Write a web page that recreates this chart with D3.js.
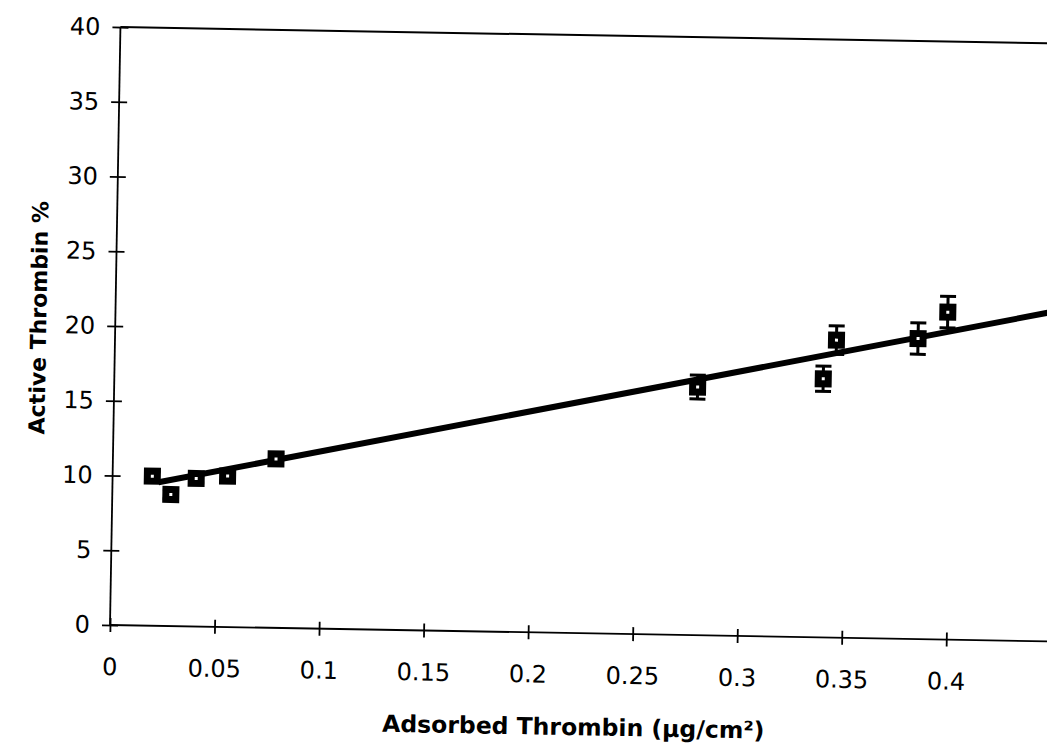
<!DOCTYPE html>
<meta charset="utf-8">
<script src="https://d3js.org/d3.v7.min.js"></script>
<style>
  body { margin: 0; background: #fff; }
  text { fill: #000; }
</style>
<div id="chart"></div>
<script>
// data
var adsorbed = [0.019, 0.028, 0.040, 0.055, 0.078, 0.279, 0.339, 0.345, 0.384, 0.398];
var active   = [10.0, 8.8, 9.9, 10.1, 11.3, 16.6, 17.3, 19.9, 20.1, 21.9];
var errBar   = [0.3, 0.3, 0.3, 0.3, 0.3, 0.8, 0.85, 0.95, 1.05, 1.05];

// straight-line fit drawn through the points (two ends)
var fitX = [0.022, 0.45];
var fitY = [9.6, 22.1];

var xTicks = [0, 0.05, 0.1, 0.15, 0.2, 0.25, 0.3, 0.35, 0.4];
var yTicks = [0, 5, 10, 15, 20, 25, 30, 35, 40];

var W = 1047, H = 746;
var x0 = 110, yBase = 625;

var svg = d3.select("#chart").append("svg")
  .attr("width", W)
  .attr("height", H);

// the scan is turned about one degree, so the whole plot is too
var g = svg.append("g")
  .attr("transform", "rotate(1," + x0 + "," + yBase + ")");

var x = d3.scaleLinear().domain([0, 0.45]).range([x0, x0 + 0.45 * 2091]);
var y = d3.scaleLinear().domain([0, 40]).range([yBase, 27]);

// x axis
var xAxis = g.append("g")
  .attr("transform", "translate(0," + yBase + ")")
  .call(d3.axisBottom(x).tickValues(xTicks).tickSize(7).tickPadding(26)
    .tickFormat(function(d) { return d === 0 ? "0" : d3.format("~g")(d); }));
xAxis.selectAll(".tick line").attr("y1", -7).attr("y2", 7);
xAxis.select(".domain").attr("d", "M" + x0 + ",0H" + x(0.45));

// y axis
var yAxis = g.append("g")
  .attr("transform", "translate(" + x0 + ",0)")
  .call(d3.axisLeft(y).tickValues(yTicks).tickSize(8).tickPadding(12));
yAxis.selectAll(".tick line").attr("x1", 8).attr("x2", -8);
yAxis.select(".domain").attr("d", "M0," + y(0) + "V" + y(40));

g.selectAll(".tick text")
  .style("font-family", "'DejaVu Sans', sans-serif")
  .style("font-size", "24px");
g.selectAll(".domain, .tick line")
  .attr("stroke", "#000")
  .attr("stroke-width", 1.8);

// top frame line at 40
g.append("line")
  .attr("x1", x(0)).attr("x2", x(0.45))
  .attr("y1", y(40)).attr("y2", y(40))
  .attr("stroke", "#000")
  .attr("stroke-width", 2);

// fit line
g.append("line")
  .attr("x1", x(fitX[0])).attr("y1", y(fitY[0]))
  .attr("x2", x(fitX[1])).attr("y2", y(fitY[1]))
  .attr("stroke", "#000")
  .attr("stroke-width", 6);

var pts = adsorbed.map(function(d, i) { return {x: d, y: active[i], e: errBar[i]}; });

// error bars
var eb = g.selectAll(".err").data(pts).enter().append("g").attr("class", "err");
eb.append("line")
  .attr("x1", function(d) { return x(d.x); })
  .attr("x2", function(d) { return x(d.x); })
  .attr("y1", function(d) { return y(d.y - d.e); })
  .attr("y2", function(d) { return y(d.y + d.e); })
  .attr("stroke", "#000").attr("stroke-width", 3);
[-1, 1].forEach(function(s) {
  eb.append("line")
    .attr("x1", function(d) { return x(d.x) - 8; })
    .attr("x2", function(d) { return x(d.x) + 8; })
    .attr("y1", function(d) { return y(d.y + s * d.e); })
    .attr("y2", function(d) { return y(d.y + s * d.e); })
    .attr("stroke", "#000").attr("stroke-width", 3);
});

// square markers
g.selectAll(".pt").data(pts).enter().append("rect")
  .attr("class", "pt")
  .attr("x", function(d) { return x(d.x) - 5; })
  .attr("y", function(d) { return y(d.y) - 5; })
  .attr("width", 10)
  .attr("height", 10)
  .attr("fill", "#fff")
  .attr("stroke", "#000")
  .attr("stroke-width", 7);

// axis titles
g.append("text")
  .attr("x", 575)
  .attr("y", 727)
  .attr("text-anchor", "middle")
  .style("font-family", "'DejaVu Sans', sans-serif")
  .style("font-weight", "bold")
  .style("font-size", "23.5px")
  .text("Adsorbed Thrombin (\u00b5g/cm\u00b2)");

g.append("text")
  .attr("transform", "translate(41,319) rotate(-90)")
  .attr("text-anchor", "middle")
  .style("font-family", "'DejaVu Sans', sans-serif")
  .style("font-weight", "bold")
  .style("font-size", "22px")
  .text("Active Thrombin %");
</script>
